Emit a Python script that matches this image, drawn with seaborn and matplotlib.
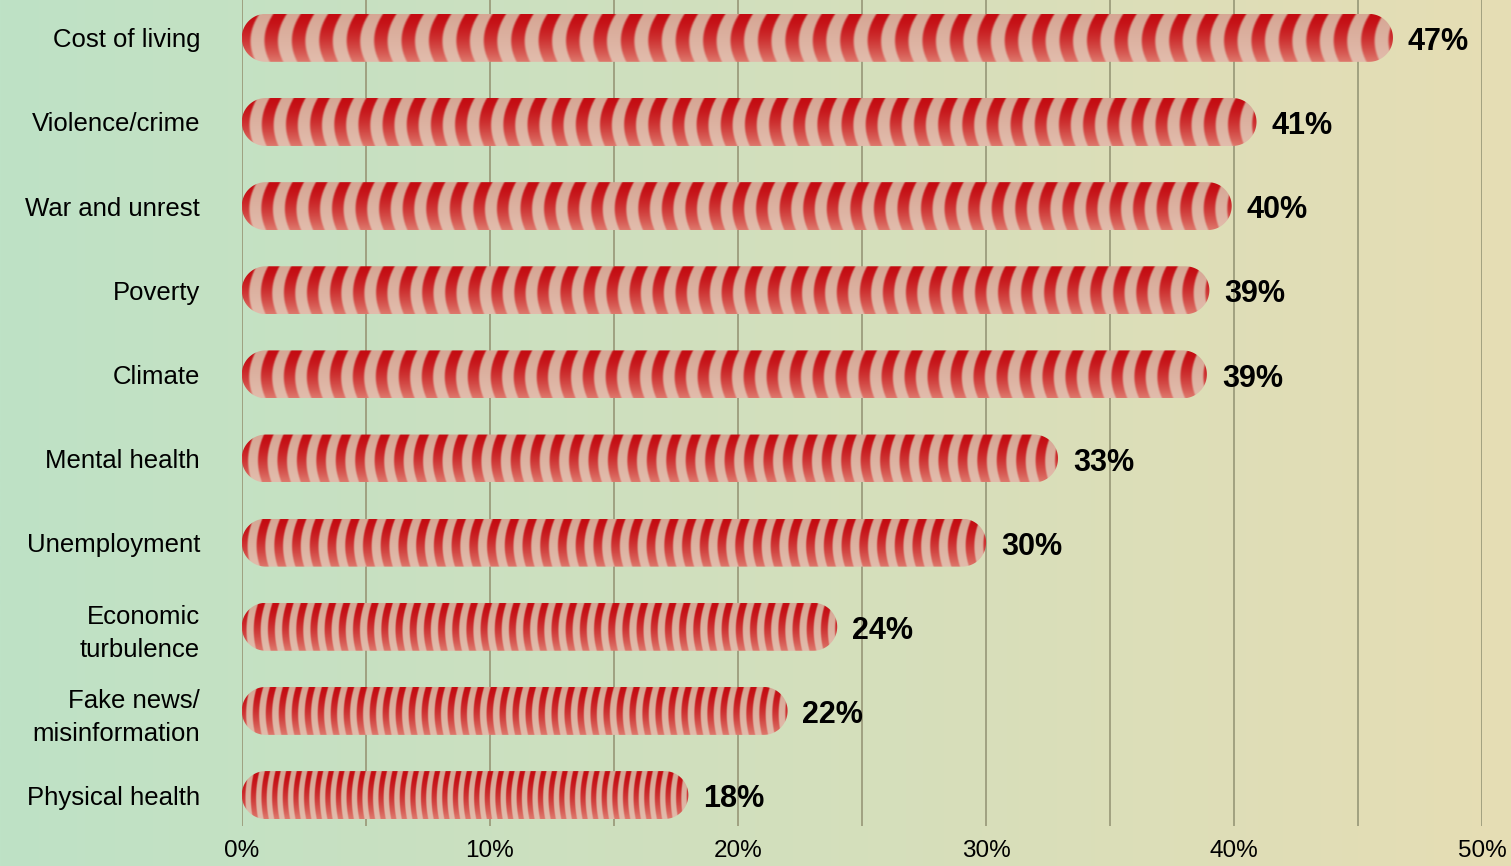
import numpy as np
import pandas as pd
import matplotlib
matplotlib.use("Agg")
import matplotlib.pyplot as plt
import seaborn as sns
from matplotlib.patches import Polygon

categories = ["Cost of living", "Violence/crime", "War and unrest", "Poverty", "Climate",
              "Mental health", "Unemployment", "Economic\nturbulence", "Fake news/\nmisinformation",
              "Physical health"]
values = [46.4, 40.9, 39.9, 39.0, 38.9, 32.9, 30.0, 24.0, 22.0, 18.0]
value_labels = ["47%", "41%", "40%", "39%", "39%", "33%", "30%", "24%", "22%", "18%"]
x_ticks = [0, 10, 20, 30, 40, 50]
x_tick_labels = ["0%", "10%", "20%", "30%", "40%", "50%"]

df = pd.DataFrame({"category": categories, "value": values})

sns.set_theme(style="white")
plt.rcParams["font.family"] = ["Liberation Sans", "DejaVu Sans"]
plt.rcParams["text.color"] = "black"
plt.rcParams["xtick.color"] = "black"
plt.rcParams["ytick.color"] = "black"

fig = plt.figure(figsize=(15.11, 8.66), dpi=100)

# background gradient
bg = fig.add_axes([0, 0, 1, 1], zorder=-10)
left_c = np.array([190, 226, 198]) / 255
right_c = np.array([230, 221, 180]) / 255
t = np.linspace(0, 1, 512)[None, :, None]
grad = left_c[None, None, :] * (1 - t) + right_c[None, None, :] * t
bg.imshow(grad, aspect="auto", extent=(0, 1, 0, 1))
bg.set_axis_off()

ax = fig.add_axes([0.160, 0.046, 0.821, 0.954])
ax.patch.set_alpha(0)
bar_h = 0.57
sns.barplot(data=df, x="value", y="category", orient="h", ax=ax, width=bar_h,
            color="#c8121a", saturation=1)

ax.set_xlim(0, 50)
ax.set_ylim(9.37, -0.45)

# gridlines
for g in np.arange(0, 51, 5):
    ax.axvline(g, color="#9c9c7c", lw=1.3, zorder=0)

# pixel scale
fig.canvas.draw()
p0 = ax.transData.transform((0, 0))
p1 = ax.transData.transform((1, 1))
px_x = abs(p1[0] - p0[0])
px_y = abs(p1[1] - p0[1])


def lerp(a, b, f):
    a = np.array(a) / 255
    b = np.array(b) / 255
    return a[None, None, :] * (1 - f[..., None]) + b[None, None, :] * f[..., None]


n_stripes = 42
patches = list(ax.patches)
for p in patches:
    x0, y0, w, h = p.get_x(), p.get_y(), p.get_width(), p.get_height()
    p.set_visible(False)
    yc = y0 + h / 2
    ry = h / 2
    rx = ry * px_y / px_x
    tl = np.linspace(np.pi / 2, 3 * np.pi / 2, 60)
    tr = np.linspace(-np.pi / 2, np.pi / 2, 60)
    xs_poly = np.concatenate([x0 + rx + rx * np.cos(tl), x0 + w - rx + rx * np.cos(tr)])
    ys_poly = np.concatenate([yc + ry * np.sin(tl), yc + ry * np.sin(tr)])
    capsule = Polygon(np.column_stack([xs_poly, ys_poly]), closed=True,
                      facecolor="none", edgecolor="none", zorder=3)
    ax.add_patch(capsule)

    period = w / n_stripes
    ncol = max(int(w * px_x * 2), 10)
    nrow = 80
    xs = np.linspace(x0, x0 + w, ncol)[None, :]
    yf = np.linspace(0, 1, nrow)[:, None] * np.ones((1, ncol))  # 0 top, 1 bottom
    curve = 0.25 * period * (2 * yf - 1) ** 2 + 0.12 * period * (1 - yf)
    phase = (xs - x0 - curve) / period
    c = np.cos(2 * np.pi * phase)
    s = np.clip((c + 0.35) / 0.75, 0, 1)
    s = s * s * (3 - 2 * s)
    red_col = lerp((196, 12, 18), (222, 120, 108), np.clip(yf, 0, 1) ** 1.6)
    light_col = lerp((214, 166, 148), (226, 188, 172), yf)
    img = light_col * (1 - s[..., None]) + red_col * s[..., None]
    img = np.clip(img, 0, 1)
    im = ax.imshow(img, extent=(x0, x0 + w, y0 + h, y0), aspect="auto",
                   interpolation="bilinear", zorder=2)
    im.set_clip_path(capsule)

ax.set_xlim(0, 50)
ax.set_ylim(9.37, -0.45)

for i, (v, lab) in enumerate(zip(values, value_labels)):
    ax.text(v + 0.6, i + 0.05, lab, ha="left", va="center", fontsize=22,
            fontweight="bold", color="black", zorder=5)

ax.set_xticks(x_ticks)
ax.set_xticklabels(x_tick_labels, fontsize=17.5)
ax.tick_params(axis="y", labelsize=18.5, pad=30, length=0)
ax.tick_params(axis="x", pad=10, length=0)
ax.set_xlabel("")
ax.set_ylabel("")
for t_ in ax.get_yticklabels():
    t_.set_multialignment("right")
    t_.set_linespacing(1.45)
for sp in ax.spines.values():
    sp.set_visible(False)

fig.savefig("out.png", dpi=100)
